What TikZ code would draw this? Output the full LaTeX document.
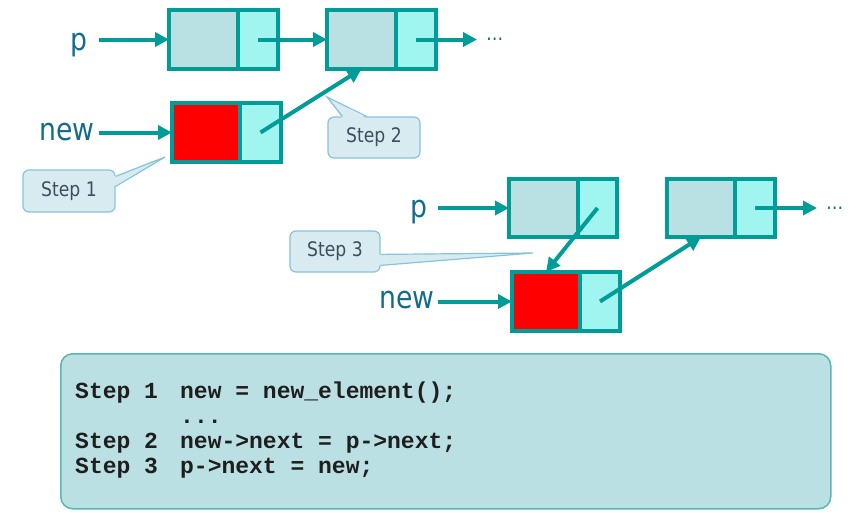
\documentclass[tikz,border=0pt]{standalone}
\usepackage{fontspec}
\setmonofont{Liberation Mono}
\newfontfamily\lblfont[FakeStretch=0.86]{DejaVu Sans}
\usetikzlibrary{arrows.meta,calc}
\definecolor{boxline}{HTML}{009C97}
\definecolor{datafill}{HTML}{B9E0E2}
\definecolor{ptrfill}{HTML}{A0F5F0}
\definecolor{lblcol}{HTML}{126C8E}
\definecolor{cfill}{HTML}{D8EBF1}
\definecolor{cborder}{HTML}{86C5D9}
\definecolor{ctext}{HTML}{3F4E5E}
\definecolor{codefill}{HTML}{BBE0E3}
\definecolor{codeborder}{HTML}{5AB6B4}
\definecolor{codetext}{HTML}{1E1E1E}
\begin{document}
\begin{tikzpicture}[x=1pt,y=-1pt,
  cell/.style={draw=boxline, line width=3.2pt, inner sep=0pt, outer sep=0pt, anchor=north west},
  datacell/.style={cell, fill=datafill},
  ptrcell/.style={cell, fill=ptrfill},
  newcell/.style={cell, fill=red},
  link/.style={draw=boxline, line width=4pt, -{Triangle[length=14pt,width=14pt]}},
  lbl/.style={text=lblcol, font=\lblfont\fontsize{31}{36}\selectfont, inner sep=0pt, anchor=base},
  dots/.style={text=lblcol, font=\lblfont\fontsize{20}{24}\selectfont, inner xsep=9pt, inner ysep=0pt, anchor=west},
  callbox/.style={draw=cborder, fill=cfill, line width=1.2pt, rounded corners=6pt, text=ctext,
    font=\lblfont\fontsize{20}{24}\selectfont, inner sep=0pt},
  pointerfill/.style={fill=cfill},
  pointerline/.style={draw=cborder, line width=1.2pt, line join=miter},
  codebox/.style={draw=codeborder, fill=codefill, line width=1.5pt, rounded corners=12pt, anchor=north west, inner sep=0pt},
  codeline/.style={text=codetext, font=\ttfamily\bfseries\fontsize{23}{25}\selectfont, inner sep=0pt, anchor=base west}
]
\useasboundingbox[fill=white] (0,0) rectangle (860,525);

% ---------- top list ----------
\node[datacell, minimum width=69pt, minimum height=59pt] (A) at (169,10) {};
\node[ptrcell, minimum width=40pt, minimum height=59pt] (Ap) at (238,10) {};
\node[datacell, minimum width=69pt, minimum height=59pt] (B) at (327,10) {};
\node[ptrcell, minimum width=40pt, minimum height=59pt] (Bp) at (396,10) {};
\node[newcell, minimum width=68pt, minimum height=59pt] (N1) at (172,103) {};
\node[ptrcell, minimum width=41pt, minimum height=59pt] (N1p) at (240,103) {};

\node[lbl] (pl1) at (79,50) {p};
\node[lbl] (nl1) at (67,140) {new};
\node[dots] (d1) at (477,39.5) {…};

\coordinate (in1) at (99,0);
\draw[link] (in1 |- A.west) -- (A.west);
\draw[link] (in1 |- N1.west) -- (N1.west);
\draw[link] (Ap.center) -- (B.west);
\draw[link] (Bp.center) -- (d1.west);
\draw[link] (N1p.center) -- (B.south);

% ---------- bottom list ----------
\node[datacell, minimum width=69pt, minimum height=58pt] (P2) at (509,179) {};
\node[ptrcell, minimum width=39pt, minimum height=58pt] (P2p) at (578,179) {};
\node[datacell, minimum width=68pt, minimum height=58pt] (Q2) at (667,179) {};
\node[ptrcell, minimum width=40pt, minimum height=58pt] (Q2p) at (735,179) {};
\node[newcell, minimum width=68pt, minimum height=59pt] (N2) at (512,272) {};
\node[ptrcell, minimum width=40pt, minimum height=59pt] (N2p) at (580,272) {};

\node[lbl] (pl2) at (419,217) {p};
\node[lbl] (nl2) at (407,308) {new};
\node[dots] (d2) at (817,208) {…};

\coordinate (in2) at (438,0);
\draw[link] (in2 |- P2.west) -- (P2.west);
\draw[link] (in2 |- N2.west) -- (N2.west);
\draw[link] (Q2p.center) -- (d2.west);
\draw[link] (P2p.center) -- (N2.north);
\draw[link] (N2p.center) -- (Q2.south);

% ---------- callouts ----------
\node[callbox, minimum width=92pt, minimum height=42pt] (c1) at (69,191) {Step 1};
\coordinate (t1) at (165,157);
\fill[pointerfill] ($(c1.north east)+(-2,7)$) -- (t1) -- ($(c1.north east)+(-2,17)$) -- cycle;
\draw[pointerline] ($(c1.north east)+(0,7)$) -- (t1) -- ($(c1.north east)+(0,17)$);

\node[callbox, minimum width=92pt, minimum height=41pt] (c2) at (374,137.5) {Step 2};
\coordinate (t2) at (327,97);
\fill[pointerfill] ($(c2.north west)+(15,2)$) -- (t2) -- ($(c2.north west)+(39,2)$) -- cycle;
\draw[pointerline] ($(c2.north west)+(15,0)$) -- (t2) -- ($(c2.north west)+(39,0)$);

\node[callbox, minimum width=90pt, minimum height=41pt] (c3) at (335,251.5) {Step 3};
\coordinate (t3) at (533,253);
\fill[pointerfill] ($(c3.north east)+(-2,24)$) -- (t3) -- ($(c3.north east)+(-2,35)$) -- cycle;
\draw[pointerline] ($(c3.north east)+(0,24)$) -- (t3) -- ($(c3.north east)+(0,35)$);

% ---------- code box ----------
\node[codebox, minimum width=770pt, minimum height=155pt] (code) at (60,353) {};
\node[codeline] (l1) at (75,398) {\makebox[105pt][l]{Step~1}new~=~new\_element();};
\node[codeline] (l2) at (75,423) {\makebox[105pt][l]{}...};
\node[codeline] (l3) at (75,448) {\makebox[105pt][l]{Step~2}new->next~=~p->next;};
\node[codeline] (l4) at (75,473) {\makebox[105pt][l]{Step~3}p->next~=~new;};
\end{tikzpicture}
\end{document}
